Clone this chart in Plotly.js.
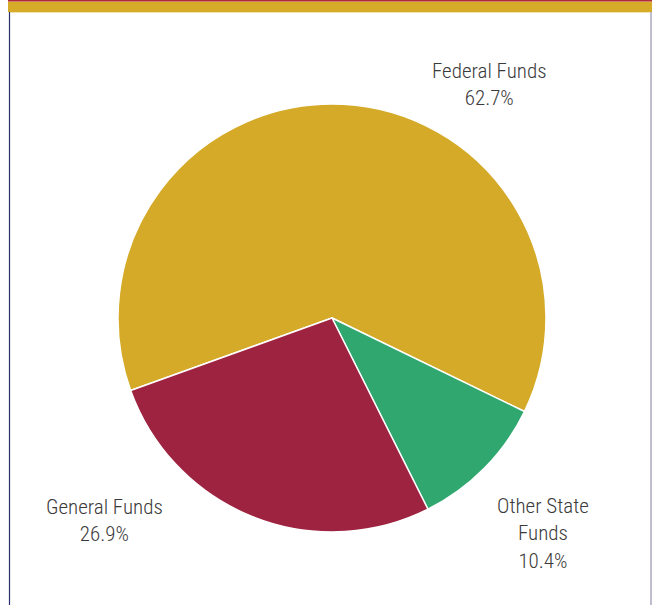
<!DOCTYPE html>
<html>
<head>
<meta charset="utf-8">
<script src="https://cdn.plot.ly/plotly-3.0.1.min.js"></script>
<style>html,body{margin:0;padding:0;background:#fff;}#chart{width:652px;height:605px;}</style>
</head>
<body>
<div id="chart"></div>
<script>
var categories = ["Federal Funds", "Other State Funds", "General Funds"];
var shares = [62.7, 10.4, 26.9];
var labelLines = [["Federal Funds"], ["Other State", "Funds"], ["General Funds"]];
var sliceColors = ["#D4AA28", "#2FA76F", "#9E2340"];

var W = 652, H = 605;
function px(x){ return x / W; }
function py(y){ return 1 - y / H; }

var labelPos = [[489, 85], [543, 533], [104, 520]];

var annotations = categories.map(function(c, i){
  var lines = labelLines[i].concat([shares[i].toFixed(1) + "%"]);
  return {
    xref: "paper", yref: "paper",
    x: px(labelPos[i][0]), y: py(labelPos[i][1]),
    xanchor: "center", yanchor: "middle",
    text: lines.join("<br>"),
    showarrow: false, align: "center",
    font: {family: "'Roboto Condensed', 'Liberation Sans Narrow', sans-serif", size: 21, weight: 300, color: "#3a3a3a"}
  };
});

var cx = 332, cy = 318, r = 214;
var data = [{
  type: "pie",
  labels: categories,
  values: shares,
  sort: false,
  direction: "clockwise",
  rotation: -109.8,
  textinfo: "none",
  hoverinfo: "label+percent",
  marker: {colors: sliceColors, line: {color: "#ffffff", width: 1.5}},
  domain: {x: [px(cx - r), px(cx + r)], y: [py(cy + r), py(cy - r)]},
  showlegend: false
}];

var shapes = [
  {type: "rect", xref: "paper", yref: "paper", x0: px(8), x1: 1, y0: py(12), y1: py(1.5), fillcolor: "#D5AB27", line: {width: 0}},
  {type: "rect", xref: "paper", yref: "paper", x0: px(8), x1: 1, y0: py(1.5), y1: 1, fillcolor: "#B1283C", line: {width: 0}},
  {type: "line", xref: "paper", yref: "paper", x0: px(9), x1: 1, y0: py(12.5), y1: py(12.5), line: {color: "#F3E3B0", width: 1}},
  {type: "line", xref: "paper", yref: "paper", x0: px(9.5), x1: px(9.5), y0: py(12), y1: 0, line: {color: "#2B2F6E", width: 1.2}},
  {type: "line", xref: "paper", yref: "paper", x0: px(651), x1: px(651), y0: py(12), y1: 0, line: {color: "#AAA7BF", width: 1.5}}
];

var layout = {
  width: W, height: H,
  margin: {l: 0, r: 0, t: 0, b: 0},
  paper_bgcolor: "#ffffff",
  annotations: annotations,
  shapes: shapes,
  showlegend: false
};

Plotly.newPlot("chart", data, layout, {displayModeBar: false, staticPlot: true});
</script>
</body>
</html>
